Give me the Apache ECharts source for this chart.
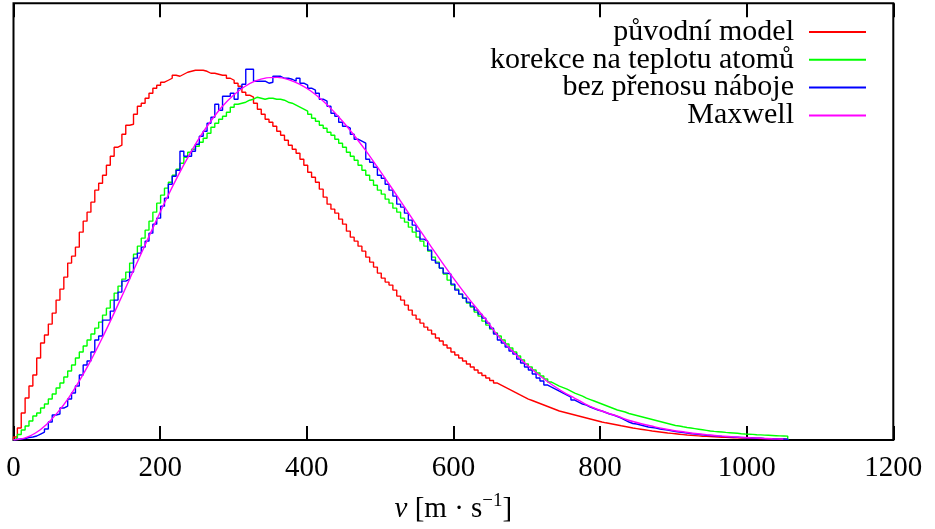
<!DOCTYPE html>
<html>
<head>
<meta charset="utf-8">
<script src="https://cdn.jsdelivr.net/npm/echarts@6/dist/echarts.min.js"></script>
<style>
html,body{margin:0;padding:0;background:#fff;}
#chart{width:935px;height:529px;}
</style>
</head>
<body>
<div id="chart"></div>
<script>
// Histogram bins: 200 bins of width 5.28 m/s starting at 0
const BIN_WIDTH = 5.28;
const xTicks = [0, 200, 400, 600, 800, 1000, 1200];
const seriesNames = ['původní model', 'korekce na teplotu atomů', 'bez přenosu náboje', 'Maxwell'];

const puvodniModel = [
  3,12,27,42,54,65,82,97,105,116,
  127,140,151,163,177,184,193,208,219,228,
  238,250,257,265,275,284,293,295,306,315,
  316,326,334,337,342,347,352,355,358,360,
  362,365,364,366,368,369,370,370,370,369,
  367,367,366,365,365,362,360,357,354,348,
  345,343,337,331,326,321,318,314,309,305,
  300,295,291,287,281,275,268,263,258,251,
  243,236,231,227,221,216,209,203,199,194,
  189,183,178,173,167,162,158,155,150,144,
  140,135,130,125,121,117,113,110,106,102,
  99,95,92,88,85,82,79,76,73,70,
  67,64.5,62,59.5,57,55,53,51,49,47,
  45,43,41,39.5,38,36.5,35,33.5,32,30.5,
  29,28,27,26,25,24,23,22,21,20,
  19,18,17.2,16.5,15.8,15,14.2,13.5,12.8,12,
  11.4,10.8,10.2,9.6,9,8.5,8,7.5,7,6.6,
  6.2,5.8,5.4,5,4.7,4.4,4.1,3.8,3.6,3.4,
  3.2,3,2.8,2.6,2.4,2.2,2.1,2,1.9,1.8,
  1.7,1.6,1.5,1.4,1.3,1.2,1.1,1,0.9,0.8
];

const korekce = [
  2,5.5,10,14,19,24,27,32,36,41,
  46,52,57,63,69,75,82,88,94,100,
  106,112,118,125,132,140,147,154,161,168,
  177,186,194,202,210,219,228,237,245,252,
  258,265,271,277,283,288,291,294,298,302,
  307,313,317,321,324,328,333,336,337,338,
  340,341,343,342,341,342,342,341,341,340,
  338,337,335,333,331,329,326,322,319,315,
  312,308,305,301,297,293,288,284,280,275,
  270,265,260,255,250,246,241,237,232,228,
  222,218,213,208,203,199,194,189,183,178,
  172,166,160,155,151,146,142,137,133,128,
  124,119,115,111,107,104,100,96,92,88,
  84,80,76,73,70,67,64,61,58,56,
  54,52.5,51,49,47,45.5,44,42,40.5,39,
  37.5,36,34.5,33,31.5,30,29,28,26.5,25.5,
  24.5,23.5,22.5,21.5,20.5,19.5,18.5,17.5,16.5,15.5,
  14.5,14,13.2,12.5,12,11.4,10.8,10.2,9.6,9,
  8.6,8.3,8,7.6,7.3,7,6.7,6.3,6,5.8,
  5.6,5.3,5.1,4.9,4.7,4.5,4.3,4.1,4,3.9
];

const bezPrenosu = [
  0.5,1,1.5,2.5,3,4,6,8,11,18,
  25,26,32,34,41,47,54,65,75,79,
  88,100,104,120,120,129,140,148,159,161,
  168,182,187,193,199,207,216,222,234,242,
  256,264,270,289,284,284,289,296,304,309,
  317,323,336,330,344,344,347,341,352,356,
  371,371,359,359,359,357,358,364,364,362,
  362,361,359,362,357,355,352,350,347,341,
  339,334,327,324,318,314,312,306,301,299,
  297,281,278,273,265,262,256,250,244,236,
  233,227,220,215,209,201,199,190,180,177,
  172,167,166,156,150,146,142,138,134,130,
  126,122,117,112,106,100,97,93,89,86,
  81,77,73,70,66,62,59,55,53,51,
  49,47,45,43,40,38,36,35,33,31.5,
  30,29,27.5,26,25,23.5,22,20,18,16.5,
  16,15,14,13,12.5,12,11,10.5,10,9.2,
  8.5,8,7.5,7,6.5,6,5.6,5.2,4.8,4.5,
  4.2,3.9,3.6,3.4,3.1,2.9,2.7,2.5,2.3,2.1,
  2,1.8,1.7,1.5,1.4,1.3,1.2,1.1,1,0.9
];

const maxwellV = [
  0,15,30,45,60,75,90,105,120,135,150,165,180,195,210,225,240,255,270,285,
  300,315,330,345,360,375,390,405,420,435,450,465,480,495,510,525,540,555,570,585,
  600,615,630,645,660,675,690,705,720,735,750,765,780,795,810,825,840,855,870,885,
  900,915,930,945,960,975,990,1005,1020,1035,1050
];
const maxwellY = [
  0,1.8,7,15.6,27.4,42,59.5,79,100.6,123.5,147.4,171.8,196,220,243.4,265.3,285.5,304,320,334,
  345,353.5,359.3,362.4,362.9,360.7,356.2,349.5,340.7,330.1,318,304.5,290,274.5,258.6,242.2,225.7,209.3,193.1,177.3,
  162,147.3,133.3,120,105,93,82,72,63,55,48,42,36,31,27,23.5,19.5,16.5,14,11.5,
  9.5,8,6.5,5.3,4.3,3.5,2.8,2.2,1.7,1.3,1
];

function histSteps(values) {
  const pts = [[0, 0]];
  values.forEach((v, i) => pts.push([i * BIN_WIDTH, v]));
  pts.push([values.length * BIN_WIDTH, 0]);
  return pts;
}

const FONT = 'Liberation Serif';
const chart = echarts.init(document.getElementById('chart'), null, {renderer: 'canvas'});

const stepSeries = (name, data, color) => ({
  name, type: 'line', step: 'end', data: histSteps(data),
  symbol: 'none', showSymbol: false, animation: false,
  lineStyle: {color, width: 1.4}, itemStyle: {color}
});

chart.setOption({
  animation: false,
  backgroundColor: '#fff',
  grid: {left: 13.5, right: 41.7, top: 3.3, bottom: 88.5, show: true, borderColor: '#000', borderWidth: 2, backgroundColor: 'transparent'},
  legend: {
    orient: 'vertical', right: 63, top: 12, align: 'right',
    itemWidth: 57, itemHeight: 1, itemGap: -2.2,
    data: seriesNames,
    itemStyle: {opacity: 0},
    textStyle: {fontFamily: FONT, fontSize: 30, color: '#000', padding: [0, 10, 0, 0]}
  },
  xAxis: [{
    type: 'value', min: xTicks[0], max: xTicks[xTicks.length - 1], interval: 200,
    position: 'bottom',
    axisLine: {show: false},
    axisTick: {show: true, inside: true, length: 14, lineStyle: {color: '#000', width: 2}},
    axisLabel: {show: true, margin: 14, color: '#000', fontFamily: FONT, fontSize: 29, formatter: v => String(v)},
    splitLine: {show: false},
    name: '{it|v}{n| [m · s}{sup|−1}{n|]}',
    nameLocation: 'middle', nameGap: 52,
    nameTextStyle: {
      fontFamily: FONT, fontSize: 29, color: '#000',
      rich: {
        it: {fontFamily: FONT, fontSize: 29, fontStyle: 'italic', color: '#000'},
        n: {fontFamily: FONT, fontSize: 29, color: '#000'},
        sup: {fontFamily: FONT, fontSize: 19, color: '#000', padding: [0, 0, 16, 0]}
      }
    }
  }, {
    type: 'value', min: xTicks[0], max: xTicks[xTicks.length - 1], interval: 200,
    position: 'top',
    axisLine: {show: false},
    axisTick: {show: true, inside: true, length: 14, lineStyle: {color: '#000', width: 2}},
    axisLabel: {show: false},
    splitLine: {show: false}
  }],
  yAxis: {
    type: 'value', min: 0, max: 437,
    axisLine: {show: false}, axisTick: {show: false}, axisLabel: {show: false}, splitLine: {show: false}
  },
  series: [
    stepSeries(seriesNames[0], puvodniModel, '#ff0000'),
    stepSeries(seriesNames[1], korekce, '#00ff00'),
    stepSeries(seriesNames[2], bezPrenosu, '#0000ff'),
    {
      name: seriesNames[3], type: 'line', data: maxwellV.map((v, i) => [v, maxwellY[i]]),
      smooth: 0.3, symbol: 'none', showSymbol: false, animation: false,
      lineStyle: {color: '#ff00ff', width: 1.4}, itemStyle: {color: '#ff00ff'}
    }
  ]
});
</script>
</body>
</html>
